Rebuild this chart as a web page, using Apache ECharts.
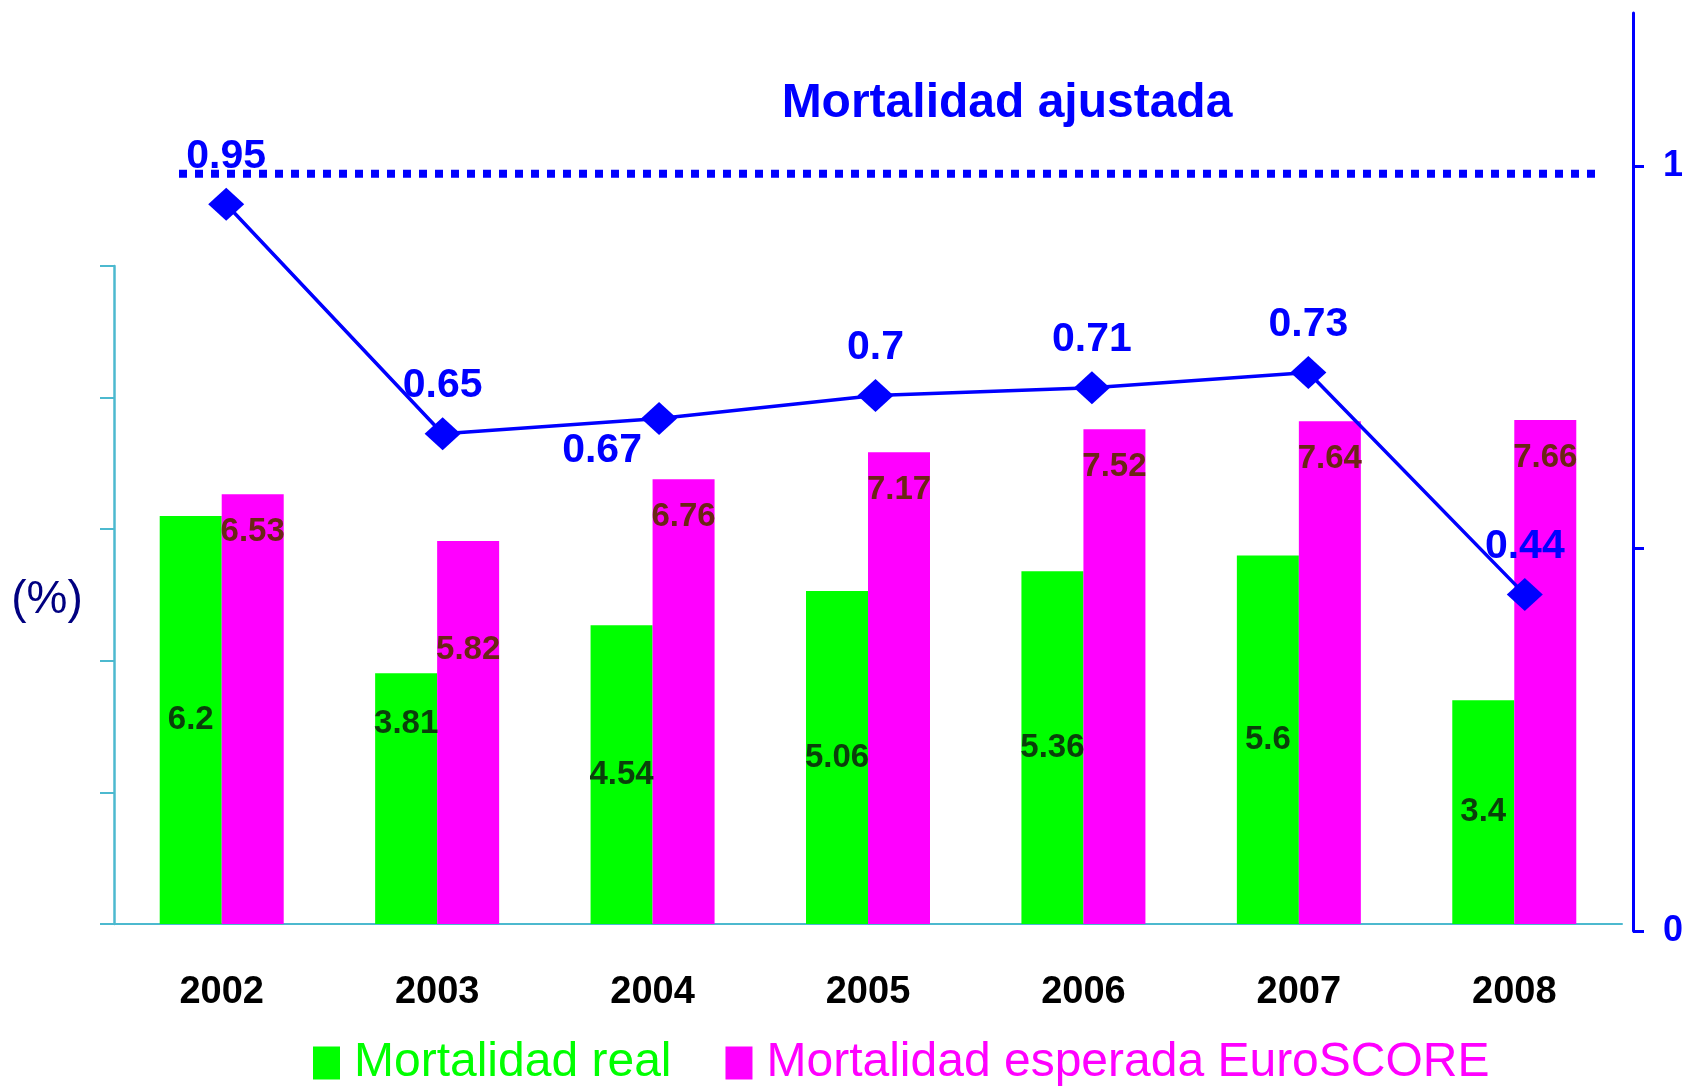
<!DOCTYPE html>
<html>
<head>
<meta charset="utf-8">
<script src="https://cdn.jsdelivr.net/npm/echarts@6/dist/echarts.min.js"></script>
<style>
  html, body { margin: 0; padding: 0; background: #fff; }
  #chart { width: 1684px; height: 1088px; }
</style>
</head>
<body>
<div id="chart"></div>
<script>
// values
const years = ['2002', '2003', '2004', '2005', '2006', '2007', '2008'];
const realMortality = [6.2, 3.81, 4.54, 5.06, 5.36, 5.6, 3.4];
const expectedEuroscore = [6.53, 5.82, 6.76, 7.17, 7.52, 7.64, 7.66];
const adjustedMortality = [0.95, 0.65, 0.67, 0.7, 0.71, 0.73, 0.44];
const referenceLevel = [0.99, 0.99];
const rightTicks = [0, 0.5, 1];
const rightLabels = [0, 1];

const SANS = "'Liberation Sans', Arial, Helvetica, sans-serif";
const AXIS_TEAL = '#4cb9cf';
const BLUE = '#0000ff';

const chart = echarts.init(document.getElementById('chart'));

const greenData = realMortality.map((v, i) =>
  i === 1 ? { value: v, label: { offset: [0, -75] } } : v);
const pinkData = expectedEuroscore.map((v, i) =>
  i === 1 ? { value: v, label: { offset: [0, 71] } } : v);
const lineData = adjustedMortality.map((v, i) =>
  i === 2 ? { value: v, label: { offset: [-57, 32] } } : v);

const option = {
  animation: false,
  backgroundColor: '#fff',
  graphic: [
    {
      type: 'text', x: 1007, y: 104,
      style: {
        text: 'Mortalidad ajustada', fill: BLUE,
        font: 'bold 48px ' + SANS, textAlign: 'center', textVerticalAlign: 'middle'
      }
    },
    {
      type: 'text', x: 47, y: 600,
      style: {
        text: '(%)', fill: '#000080',
        font: '46px ' + SANS, textAlign: 'center', textVerticalAlign: 'middle'
      }
    }
  ],
  legend: {
    left: 308, top: 1034,
    itemWidth: 27, itemHeight: 33, itemGap: 54,
    icon: 'rect',
    selectedMode: false,
    textStyle: { fontFamily: SANS, fontSize: 48, lineHeight: 48, padding: [0, 0, 0, 9] },
    data: [
      { name: 'Mortalidad real', textStyle: { color: '#00ff00' } },
      { name: 'Mortalidad esperada EuroSCORE', textStyle: { color: '#ff00ff' } }
    ]
  },
  grid: [
    { left: 114, right: 62, top: 266, bottom: 164, outerBoundsMode: 'none', containLabel: false },
    { left: 118, right: 51, top: 13, bottom: 157, outerBoundsMode: 'none', containLabel: false },
    { left: 179, right: 89, top: 13, bottom: 157, outerBoundsMode: 'none', containLabel: false }
  ],
  xAxis: [
    {
      gridIndex: 0, type: 'category', data: years,
      axisLine: { lineStyle: { color: AXIS_TEAL, width: 2 } },
      axisTick: { length: 15, lineStyle: { color: AXIS_TEAL, width: 2 } },
      axisLabel: { margin: 50, color: '#000', fontFamily: SANS, fontWeight: 'bold', fontSize: 38 },
      splitLine: { show: false }
    },
    { gridIndex: 1, type: 'category', data: years, show: false },
    { gridIndex: 2, type: 'value', min: 0, max: 1, show: false }
  ],
  yAxis: [
    {
      gridIndex: 0, type: 'value', min: 0, max: 10, interval: 2,
      axisLine: { show: true, lineStyle: { color: AXIS_TEAL, width: 2.5 } },
      axisTick: { show: true, length: 14, lineStyle: { color: AXIS_TEAL, width: 2 } },
      axisLabel: { show: false },
      splitLine: { show: false }
    },
    {
      gridIndex: 1, type: 'value', position: 'right', min: 0, max: 1.2,
      axisLine: { show: true, lineStyle: { color: BLUE, width: 3 } },
      axisTick: { show: true, length: 11, customValues: rightTicks, lineStyle: { color: BLUE, width: 3 } },
      axisLabel: {
        margin: 30, customValues: rightLabels, color: BLUE,
        fontFamily: SANS, fontWeight: 'bold', fontSize: 36
      },
      splitLine: { show: false }
    },
    { gridIndex: 2, type: 'value', min: 0, max: 1.2, show: false }
  ],
  series: [
    {
      name: 'Mortalidad real', type: 'bar', xAxisIndex: 0, yAxisIndex: 0,
      data: greenData, barWidth: 62, barGap: '0%',
      itemStyle: { color: '#00ff00' },
      label: {
        show: true, position: 'inside', color: '#0b3f0b',
        fontFamily: SANS, fontWeight: 'bold', fontSize: 33, lineHeight: 34
      }
    },
    {
      name: 'Mortalidad esperada EuroSCORE', type: 'bar', xAxisIndex: 0, yAxisIndex: 0,
      data: pinkData, barWidth: 62, barGap: '0%',
      itemStyle: { color: '#ff00ff' },
      label: {
        show: true, position: 'insideTop', distance: 21, color: '#6b2616',
        fontFamily: SANS, fontWeight: 'bold', fontSize: 33, lineHeight: 34
      }
    },
    {
      name: 'Mortalidad ajustada', type: 'line', xAxisIndex: 1, yAxisIndex: 1,
      data: lineData,
      symbol: 'diamond', symbolSize: [36, 33],
      lineStyle: { color: BLUE, width: 3.5 },
      itemStyle: { color: BLUE },
      label: {
        show: true, position: 'inside', offset: [0, -48], color: BLUE,
        fontFamily: SANS, fontWeight: 'bold', fontSize: 41, lineHeight: 41
      },
      z: 5
    },
    {
      name: 'Referencia', type: 'line', xAxisIndex: 2, yAxisIndex: 2,
      data: [[0, referenceLevel[0]], [1, referenceLevel[1]]],
      symbol: 'none', silent: true,
      lineStyle: { color: BLUE, width: 8, type: [8, 8], cap: 'butt' },
      z: 4
    }
  ]
};

chart.setOption(option);
</script>
</body>
</html>
